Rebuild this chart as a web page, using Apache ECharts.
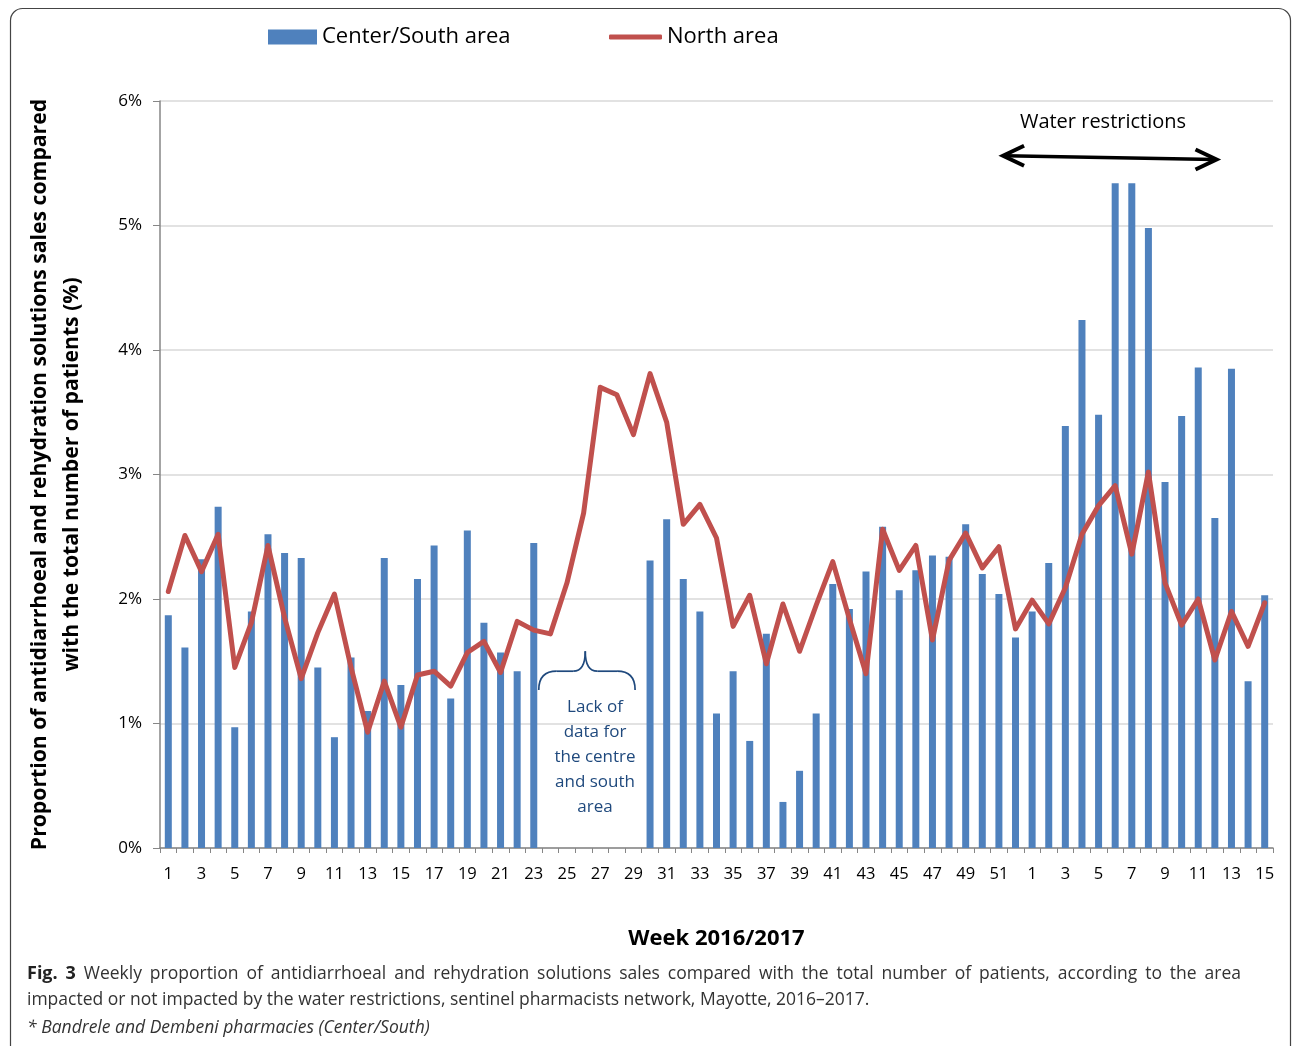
<!DOCTYPE html>
<html>
<head>
<meta charset="utf-8">
<script src="https://cdn.jsdelivr.net/npm/echarts@6/dist/echarts.min.js"></script>
<style>
html,body{margin:0;padding:0;background:#fff;}
#chart{width:1295px;height:1046px;}
</style>
</head>
<body>
<div id="chart"></div>
<script>
// ---- data ----
const weekLabels = [
  1,2,3,4,5,6,7,8,9,10,11,12,13,14,15,16,17,18,19,20,21,22,23,24,25,26,
  27,28,29,30,31,32,33,34,35,36,37,38,39,40,41,42,43,44,45,46,47,48,49,50,51,52,
  1,2,3,4,5,6,7,8,9,10,11,12,13,14,15
];
const weekYears = [
  2016,2016,2016,2016,2016,2016,2016,2016,2016,2016,2016,2016,2016,2016,2016,2016,2016,2016,2016,2016,2016,2016,2016,2016,2016,2016,
  2016,2016,2016,2016,2016,2016,2016,2016,2016,2016,2016,2016,2016,2016,2016,2016,2016,2016,2016,2016,2016,2016,2016,2016,2016,2016,
  2017,2017,2017,2017,2017,2017,2017,2017,2017,2017,2017,2017,2017,2017,2017
];
const centerSouth = [
  1.87,1.61,2.32,2.74,0.97,1.90,2.52,2.37,2.33,1.45,0.89,1.53,1.10,2.33,1.31,2.16,2.43,1.20,2.55,1.81,1.57,1.42,2.45,
  null,null,null,null,null,null,
  2.31,2.64,2.16,1.90,1.08,1.42,0.86,1.72,0.37,0.62,1.08,2.12,1.92,2.22,2.58,2.07,2.23,2.35,2.34,2.60,2.20,2.04,1.69,
  1.90,2.29,3.39,4.24,3.48,5.34,5.34,4.98,2.94,3.47,3.86,2.65,3.85,1.34,2.03
];
const north = [
  2.06,2.51,2.22,2.52,1.45,1.81,2.43,1.85,1.36,1.73,2.04,1.45,0.93,1.34,0.97,1.39,1.42,1.30,1.57,1.66,1.41,1.82,1.75,
  1.72,2.13,2.69,3.70,3.64,3.32,3.81,3.42,2.60,2.76,2.49,1.78,2.03,1.48,1.96,1.58,1.95,2.30,1.84,1.40,2.56,2.23,2.43,1.67,2.31,2.53,2.25,2.42,1.76,
  1.99,1.80,2.09,2.52,2.75,2.91,2.36,3.02,2.13,1.79,2.00,1.51,1.90,1.62,1.97
];
const yTicks = [0,1,2,3,4,5,6];

const categories = weekLabels.map((w,i)=> weekYears[i] + '-' + w);
const FONT = '"Open Sans", "Noto Sans", sans-serif';

const chart = echarts.init(document.getElementById('chart'));
chart.setOption({
  animation: false,
  backgroundColor: '#fff',
  textStyle: {fontFamily: FONT},
  legend: [
    {data:[{name:'Center/South area', icon:'rect'}], left:268, top:26, padding:0,
     itemWidth:49, itemHeight:15, textStyle:{fontSize:22, color:'#000', fontFamily:FONT}},
    {data:[{name:'North area', icon:'roundRect'}], left:609, top:26, padding:0,
     itemWidth:53, itemHeight:5, textStyle:{fontSize:22, color:'#000', fontFamily:FONT}}
  ],
  grid: {left:160, right:22, top:101, bottom:198, containLabel:false},
  xAxis: {
    type:'category', data:categories, boundaryGap:true,
    name:'Week 2016/2017', nameLocation:'middle', nameGap:80,
    nameTextStyle:{fontSize:22, fontWeight:'bold', color:'#000', fontFamily:FONT},
    axisLine:{lineStyle:{color:'#868686', width:1.5}},
    axisTick:{show:true, interval:0, length:5, lineStyle:{color:'#868686'}},
    axisLabel:{interval:1, fontSize:16.5, color:'#000', margin:18, fontFamily:FONT,
      formatter:(v)=> v.split('-')[1]},
    splitLine:{show:false}
  },
  yAxis: {
    type:'value', min:yTicks[0], max:yTicks[yTicks.length-1], interval:1,
    name:'Proportion of antidiarrhoeal and rehydration solutions sales compared\nwith the total number of patients (%)',
    nameLocation:'middle', nameGap:72, nameRotate:90,
    nameTextStyle:{fontSize:21.2, fontWeight:'bold', color:'#000', lineHeight:32, fontFamily:FONT, align:'center'},
    axisLine:{show:true, lineStyle:{color:'#868686', width:1.5}},
    axisTick:{show:true, length:7, lineStyle:{color:'#868686'}},
    axisLabel:{fontSize:17, color:'#000', margin:18, formatter:'{value}%', fontFamily:FONT},
    splitLine:{lineStyle:{color:'#d9d9d9', width:1.5}}
  },
  series: [
    {name:'Center/South area', type:'bar', data:centerSouth, barWidth:7,
     itemStyle:{color:'#4f81bd'}, z:2},
    {name:'North area', type:'line', data:north, symbol:'none', z:3,
     lineStyle:{color:'#c0504d', width:5, join:'round', cap:'round'},
     itemStyle:{color:'#c0504d'}}
  ]
});

// ---- annotations anchored to data coordinates ----
function px(i, v){ return chart.convertToPixel({gridIndex:0}, [i, v]); }
function pxFrac(f, v){
  const a = px(Math.floor(f), v), b = px(Math.floor(f)+1, v);
  const t = f - Math.floor(f);
  return [a[0] + (b[0]-a[0])*t, a[1]];
}
const aL = pxFrac(50.25, 5.56), aR = pxFrac(63.1, 5.53);
const braceL = pxFrac(22.3, 1.27), braceR = pxFrac(28.1, 1.27);
const braceTip = pxFrac(25.1, 1.58);
const bTop = pxFrac(0, 1.42)[1];
const blue = '#1f497d';
const bStyle = {stroke:blue, lineWidth:1.7, fill:'none'};

const lackLines = ['Lack of','data for','the centre','and south','area'];
const graphics = [
  {type:'rect', shape:{x:10.5, y:8.5, width:1280, height:1050, r:12},
   style:{fill:'none', stroke:'#444', lineWidth:1.2}, silent:true},
  {type:'text', style:{x:1103, y:122, text:'Water restrictions', fill:'#000',
    font:'20px ' + FONT, textAlign:'center', textVerticalAlign:'middle'}},
  {type:'line', shape:{x1:aL[0]+2, y1:aL[1], x2:aR[0]-2, y2:aR[1]},
   style:{stroke:'#000', lineWidth:3.5}},
  {type:'polyline', shape:{points:[[aL[0]+21, aL[1]-10],[aL[0], aL[1]],[aL[0]+21, aL[1]+10]]},
   style:{stroke:'#000', lineWidth:4, fill:'none', lineJoin:'miter'}},
  {type:'polyline', shape:{points:[[aR[0]-21, aR[1]-10],[aR[0], aR[1]],[aR[0]-21, aR[1]+10]]},
   style:{stroke:'#000', lineWidth:4, fill:'none', lineJoin:'miter'}},
  // curly brace
  {type:'bezierCurve', shape:{x1:braceL[0], y1:braceL[1], cpx1:braceL[0], cpy1:bTop, x2:braceL[0]+18, y2:bTop}, style:bStyle},
  {type:'line', shape:{x1:braceL[0]+18, y1:bTop, x2:braceTip[0]-12, y2:bTop}, style:bStyle},
  {type:'bezierCurve', shape:{x1:braceTip[0]-12, y1:bTop, cpx1:braceTip[0], cpy1:bTop, x2:braceTip[0], y2:braceTip[1]}, style:bStyle},
  {type:'bezierCurve', shape:{x1:braceTip[0], y1:braceTip[1], cpx1:braceTip[0], cpy1:bTop, x2:braceTip[0]+12, y2:bTop}, style:bStyle},
  {type:'line', shape:{x1:braceTip[0]+12, y1:bTop, x2:braceR[0]-18, y2:bTop}, style:bStyle},
  {type:'bezierCurve', shape:{x1:braceR[0]-18, y1:bTop, cpx1:braceR[0], cpy1:bTop, x2:braceR[0], y2:braceR[1]}, style:bStyle}
];
lackLines.forEach((t,k)=>{
  graphics.push({type:'text', style:{x:595, y:707+k*25, text:t, fill:blue,
    font:'17px ' + FONT, textAlign:'center', textVerticalAlign:'middle'}});
});

// caption: first line justified between x=27 and x=1241
const capFont = '17.5px ' + FONT, capBold = 'bold 18px ' + FONT;
const mctx = document.createElement('canvas').getContext('2d');
function mw(t, f){ mctx.font = f; return mctx.measureText(t).width; }
const line1 = 'Weekly proportion of antidiarrhoeal and rehydration solutions sales compared with the total number of patients, according to the area';
const words = [{t:'Fig.', f:capBold, c:'#222'}, {t:'3', f:capBold, c:'#222'}]
  .concat(line1.split(' ').map(w=>({t:w, f:capFont, c:'#333'})));
const totalW = words.reduce((s,w)=> s + mw(w.t, w.f), 0);
const gap = (1241 - 27 - totalW) / (words.length - 1);
let cx = 27;
words.forEach(w=>{
  graphics.push({type:'text', style:{x:cx, y:974, text:w.t, font:w.f, fill:w.c, textVerticalAlign:'middle'}});
  cx += mw(w.t, w.f) + gap;
});
graphics.push({type:'text', style:{x:27, y:1000, textVerticalAlign:'middle',
  text:'impacted or not impacted by the water restrictions, sentinel pharmacists network, Mayotte, 2016\u20132017.',
  font:capFont, fill:'#333'}});
graphics.push({type:'text', style:{x:27, y:1028, textVerticalAlign:'middle',
  text:'* Bandrele and Dembeni pharmacies (Center/South)',
  font:'italic ' + capFont, fill:'#333'}});
chart.setOption({graphic: graphics});
</script>
</body>
</html>
